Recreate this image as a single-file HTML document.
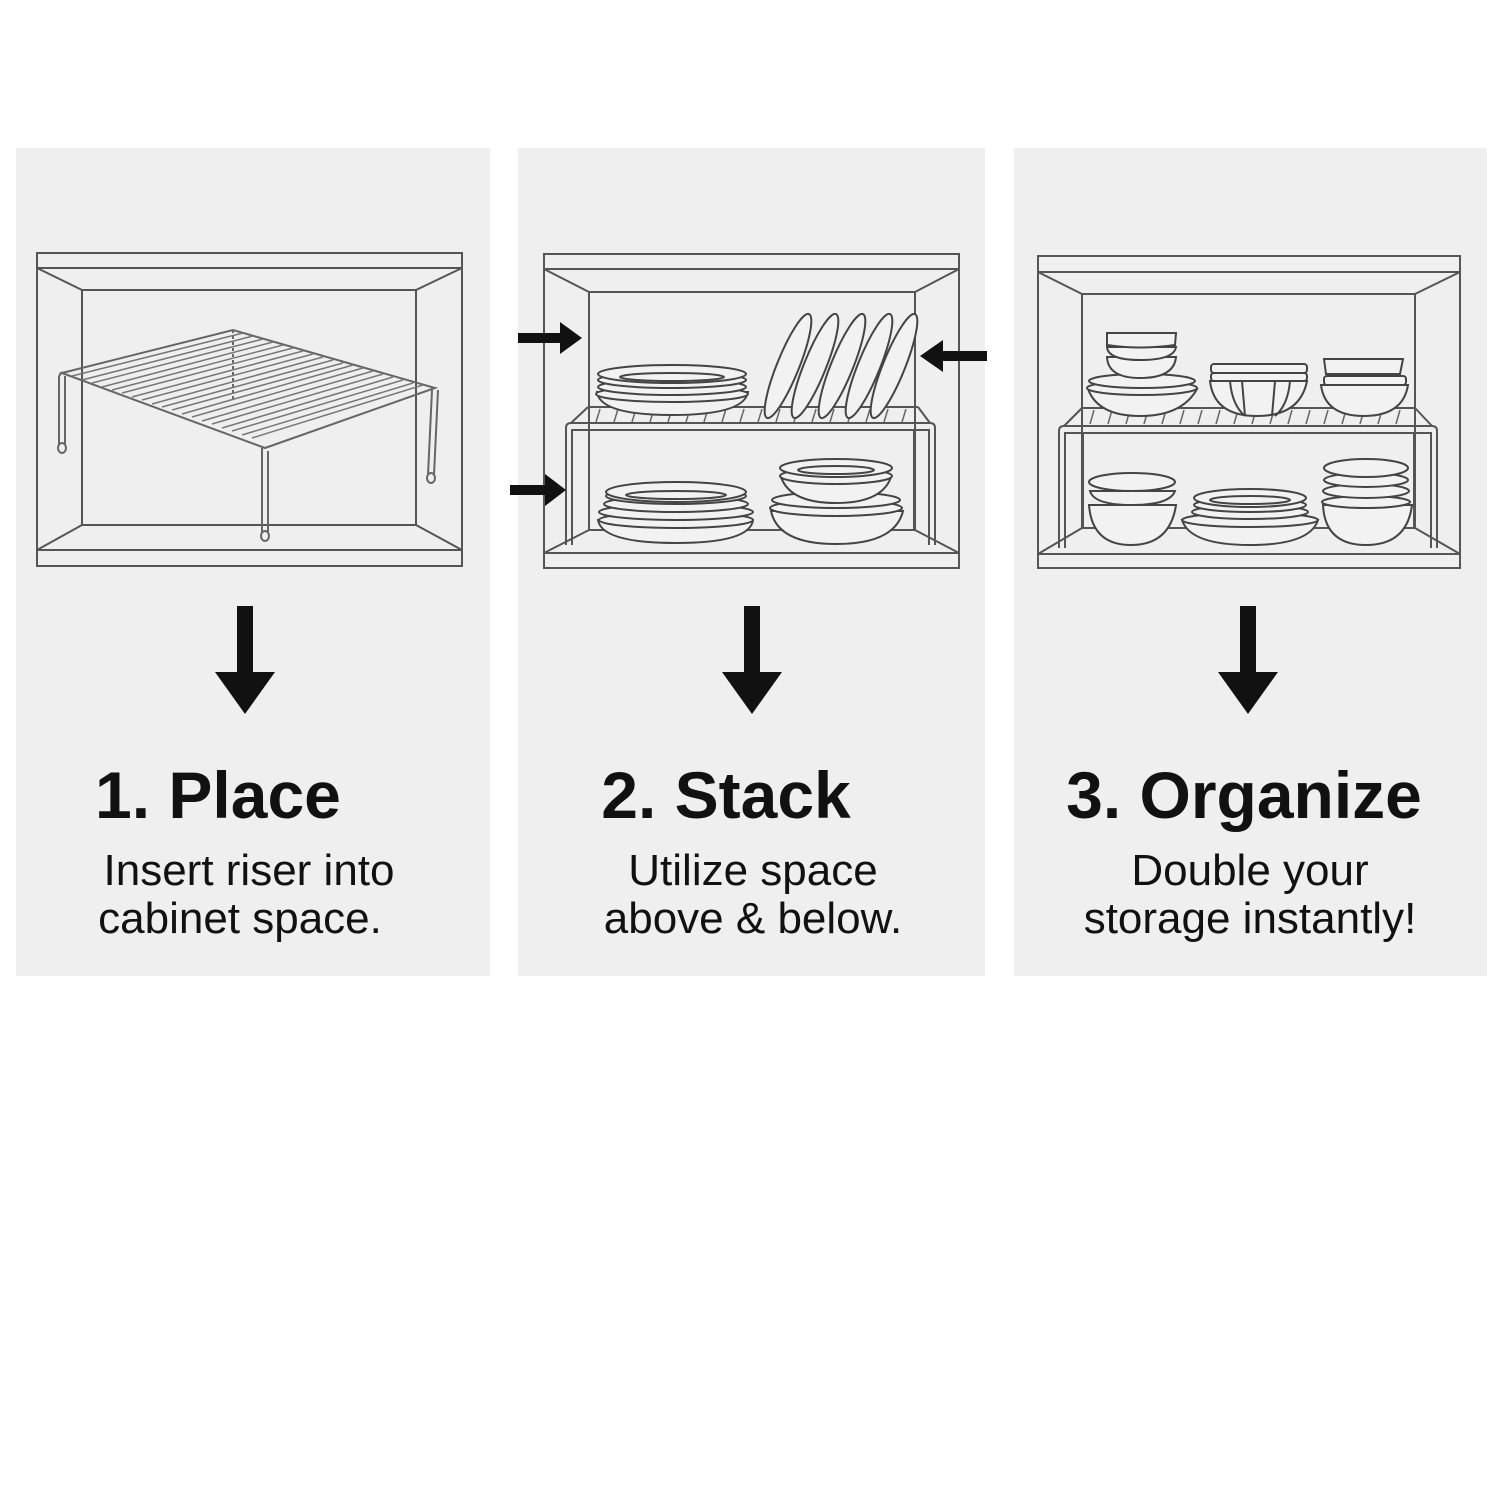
<!DOCTYPE html>
<html><head><meta charset="utf-8"><style>
html,body{margin:0;padding:0;background:#fff;}
svg{display:block;}
text{font-family:"Liberation Sans",sans-serif;fill:#111;}
</style></head><body>
<svg width="1500" height="1500" viewBox="0 0 1500 1500" xmlns="http://www.w3.org/2000/svg">
<rect width="1500" height="1500" fill="#fff"/>
<rect x="16" y="148" width="474" height="828" fill="#efefef"/>
<rect x="518" y="148" width="467" height="828" fill="#efefef"/>
<rect x="1014" y="148" width="473" height="828" fill="#efefef"/>

<g fill="none" stroke="#555" stroke-width="2">
<rect x="37" y="253" width="425" height="313"/>
<line x1="37" y1="268" x2="462" y2="268"/>
<line x1="37" y1="550" x2="462" y2="550"/>
<rect x="82" y="290" width="334" height="235"/>
<line x1="37" y1="268" x2="82" y2="290"/><line x1="462" y1="268" x2="416" y2="290"/>
<line x1="37" y1="550" x2="82" y2="525"/><line x1="462" y1="550" x2="416" y2="525"/>
<rect x="544" y="254" width="415" height="314"/>
<line x1="544" y1="269" x2="959" y2="269"/>
<line x1="544" y1="553" x2="959" y2="553"/>
<rect x="589" y="292" width="326" height="238"/>
<line x1="544" y1="269" x2="589" y2="292"/><line x1="959" y1="269" x2="915" y2="292"/>
<line x1="544" y1="553" x2="589" y2="530"/><line x1="959" y1="553" x2="915" y2="530"/>
<rect x="1038" y="256" width="422" height="312"/>
<line x1="1038" y1="272" x2="1460" y2="272"/>
<line x1="1038" y1="554" x2="1460" y2="554"/>
<rect x="1082" y="294" width="333" height="234"/>
<line x1="1038" y1="272" x2="1082" y2="294"/><line x1="1460" y1="272" x2="1415" y2="294"/>
<line x1="1038" y1="554" x2="1082" y2="528"/><line x1="1460" y1="554" x2="1415" y2="528"/>
</g>

<g fill="none" stroke="#666" stroke-width="2">
<path d="M62,373 L233,330 L435,388 L265,448 Z"/>
<path d="M59,376 L62,372 M59,376 L59,445 M65,376 L65,445"/>
<ellipse cx="62" cy="448" rx="4" ry="5"/>
<path d="M262,448 L262,533 M268,451 L268,533"/>
<ellipse cx="265" cy="536" rx="4" ry="5"/>
<path d="M432,390 L428,475 M438,390 L434,475"/>
<ellipse cx="431" cy="478" rx="4" ry="5"/>
<line x1="233" y1="330" x2="233" y2="400" stroke-dasharray="3,3"/>
</g>
<g stroke="#777" stroke-width="1.5">
<line x1="72" y1="376" x2="243" y2="333"/><line x1="82" y1="380" x2="253" y2="336"/>
<line x1="92" y1="383" x2="263" y2="339"/><line x1="102" y1="387" x2="273" y2="342"/>
<line x1="112" y1="390" x2="283" y2="345"/><line x1="122" y1="393" x2="293" y2="348"/>
<line x1="132" y1="397" x2="303" y2="351"/><line x1="142" y1="400" x2="313" y2="354"/>
<line x1="152" y1="404" x2="323" y2="357"/><line x1="162" y1="407" x2="333" y2="360"/>
<line x1="172" y1="410" x2="343" y2="363"/><line x1="182" y1="414" x2="353" y2="365"/>
<line x1="192" y1="417" x2="363" y2="368"/><line x1="202" y1="421" x2="373" y2="371"/>
<line x1="212" y1="424" x2="383" y2="374"/><line x1="222" y1="428" x2="393" y2="377"/>
<line x1="232" y1="431" x2="403" y2="380"/><line x1="242" y1="435" x2="413" y2="383"/>
<line x1="252" y1="438" x2="423" y2="385"/>
</g>

<g fill="none" stroke="#555" stroke-width="2">
<path d="M566,545 L566,428 Q566,423 571,423 L930,423 Q935,423 935,428 L935,545"/>
<path d="M572,545 L572,430 L929,430 L929,545"/>
<line x1="588" y1="407" x2="918" y2="407"/>
<line x1="588" y1="407" x2="571" y2="423"/><line x1="918" y1="407" x2="930" y2="423"/>
<line x1="589" y1="430" x2="589" y2="530"/><line x1="914" y1="430" x2="914" y2="530"/>
</g>
<g stroke="#666" stroke-width="1.5">
<path d="M600,409 l-4,13 M618,409 l-4,13 M636,409 l-4,13 M654,409 l-4,13 M672,409 l-4,13 M690,409 l-4,13 M708,409 l-4,13 M726,409 l-4,13 M744,409 l-4,13 M762,409 l-4,13 M780,409 l-4,13 M798,409 l-4,13 M816,409 l-4,13 M834,409 l-4,13 M852,409 l-4,13 M870,409 l-4,13 M888,409 l-4,13 M906,409 l-4,13"/>
</g>
<g fill="#f2f2f2" stroke="#444" stroke-width="2">
<path d="M597,392 Q600,415 672,415 Q744,415 748,392 Z"/>
<ellipse cx="672" cy="394" rx="76" ry="8"/>
<ellipse cx="672" cy="387" rx="74" ry="8"/>
<ellipse cx="672" cy="380" rx="74" ry="8"/>
<ellipse cx="672" cy="374" rx="74" ry="9"/>
<ellipse cx="672" cy="377" rx="52" ry="4"/>
<ellipse cx="788" cy="366" rx="11" ry="56" transform="rotate(22 788 366)"/>
<ellipse cx="815" cy="366" rx="11" ry="56" transform="rotate(22 815 366)"/>
<ellipse cx="842" cy="366" rx="11" ry="56" transform="rotate(22 842 366)"/>
<ellipse cx="869" cy="366" rx="11" ry="56" transform="rotate(22 869 366)"/>
<ellipse cx="894" cy="366" rx="11" ry="56" transform="rotate(22 894 366)"/>
<path d="M598,520 Q602,543 676,543 Q750,543 753,520 Z"/>
<ellipse cx="676" cy="520" rx="77" ry="8"/>
<ellipse cx="676" cy="512" rx="77" ry="8"/>
<ellipse cx="676" cy="504" rx="72" ry="8"/>
<ellipse cx="676" cy="496" rx="70" ry="8"/>
<ellipse cx="676" cy="492" rx="70" ry="10"/>
<ellipse cx="676" cy="495" rx="50" ry="4"/>
<path d="M771,511 Q778,544 836,544 Q895,544 903,511 Z"/>
<ellipse cx="836" cy="508" rx="66" ry="8"/>
<ellipse cx="836" cy="500" rx="64" ry="8"/>
<path d="M781,477 Q790,503 836,503 Q882,503 891,477 Z"/>
<ellipse cx="836" cy="476" rx="56" ry="8"/>
<ellipse cx="836" cy="468" rx="56" ry="9"/>
<ellipse cx="836" cy="470" rx="38" ry="4"/>
</g>

<g fill="none" stroke="#555" stroke-width="2">
<path d="M1059,548 L1059,431 Q1059,426 1064,426 L1432,426 Q1437,426 1437,431 L1437,548"/>
<path d="M1065,548 L1065,433 L1431,433 L1431,548"/>
<line x1="1082" y1="408" x2="1415" y2="408"/>
<line x1="1082" y1="408" x2="1064" y2="426"/><line x1="1415" y1="408" x2="1432" y2="426"/>
<line x1="1083" y1="433" x2="1083" y2="528"/><line x1="1414" y1="433" x2="1414" y2="528"/>
</g>
<g stroke="#666" stroke-width="1.5">
<path d="M1094,410 l-4,14 M1112,410 l-4,14 M1130,410 l-4,14 M1148,410 l-4,14 M1166,410 l-4,14 M1184,410 l-4,14 M1202,410 l-4,14 M1220,410 l-4,14 M1238,410 l-4,14 M1256,410 l-4,14 M1274,410 l-4,14 M1292,410 l-4,14 M1310,410 l-4,14 M1328,410 l-4,14 M1346,410 l-4,14 M1364,410 l-4,14 M1382,410 l-4,14 M1400,410 l-4,14"/>
</g>
<g fill="#f2f2f2" stroke="#444" stroke-width="2">
<path d="M1088,389 Q1098,416 1140,416 Q1182,416 1197,389 Z"/>
<ellipse cx="1142" cy="388" rx="55" ry="7"/>
<ellipse cx="1142" cy="381" rx="53" ry="7"/>
<path d="M1107,357 Q1108,378 1140,378 Q1174,378 1176,357 Z"/>
<path d="M1107,347 Q1108,360 1140,360 Q1174,360 1176,347 Z"/>
<path d="M1107,333 L1176,333 L1175,345 Q1140,350 1107,345 Z"/>
<path d="M1210,381 Q1214,416 1257,416 Q1300,416 1307,381 Z"/>
<rect x="1211" y="364" width="96" height="9" rx="3"/>
<rect x="1211" y="373" width="96" height="8" rx="3"/>
<path d="M1230,381 Q1232,405 1245,416 M1242,381 L1245,416 M1275,381 L1272,416 M1290,381 Q1288,405 1275,416" fill="none"/>
<path d="M1321,385 Q1325,416 1364,416 Q1403,416 1408,385 Z"/>
<rect x="1324" y="376" width="82" height="9" rx="3"/>
<path d="M1324,359 L1403,359 L1400,374 L1326,374 Z"/>
<path d="M1089,505 Q1092,545 1131,545 Q1170,545 1176,505 Z"/>
<path d="M1090,491 Q1094,505 1132,505 Q1170,505 1175,491 Z"/>
<ellipse cx="1132" cy="482" rx="43" ry="9"/>
<path d="M1182,520 Q1190,545 1250,545 Q1310,545 1318,520 Z"/>
<ellipse cx="1250" cy="520" rx="68" ry="7"/>
<ellipse cx="1250" cy="512" rx="58" ry="7"/>
<ellipse cx="1250" cy="505" rx="56" ry="7"/>
<ellipse cx="1250" cy="498" rx="56" ry="9"/>
<ellipse cx="1250" cy="500" rx="40" ry="4"/>
<path d="M1323,505 Q1325,545 1366,545 Q1407,545 1412,505 Z"/>
<ellipse cx="1366" cy="502" rx="44" ry="6"/>
<ellipse cx="1366" cy="491" rx="43" ry="7"/>
<ellipse cx="1366" cy="480" rx="42" ry="7"/>
<ellipse cx="1366" cy="468" rx="42" ry="9"/>
</g>

<g fill="#111">
<path d="M518,333 L560,333 L560,322 L582,338 L560,354 L560,343 L518,343 Z"/>
<path d="M510,485 L545,485 L545,474 L566,490 L545,506 L545,495 L510,495 Z"/>
<path d="M987,351 L943,351 L943,340 L920,356 L943,372 L943,361 L987,361 Z"/>
</g>
<g fill="#111">
<path d="M237,606 L253,606 L253,672 L275,672 L245,714 L215,672 L237,672 Z"/>
<path d="M744,606 L760,606 L760,672 L782,672 L752,714 L722,672 L744,672 Z"/>
<path d="M1240,606 L1256,606 L1256,672 L1278,672 L1248,714 L1218,672 L1240,672 Z"/>
</g>

<g font-weight="bold" font-size="66">
<text x="95" y="818">1. Place</text>
<text x="726" y="818" text-anchor="middle">2. Stack</text>
<text x="1244" y="818" text-anchor="middle">3. Organize</text>
</g>
<g font-size="44">
<text x="249" y="885" text-anchor="middle">Insert riser into</text>
<text x="240" y="933" text-anchor="middle">cabinet space.</text>
<text x="753" y="885" text-anchor="middle">Utilize space</text>
<text x="753" y="933" text-anchor="middle">above &amp; below.</text>
<text x="1250" y="885" text-anchor="middle">Double your</text>
<text x="1250" y="933" text-anchor="middle">storage instantly!</text>
</g>
</svg>
</body></html>
